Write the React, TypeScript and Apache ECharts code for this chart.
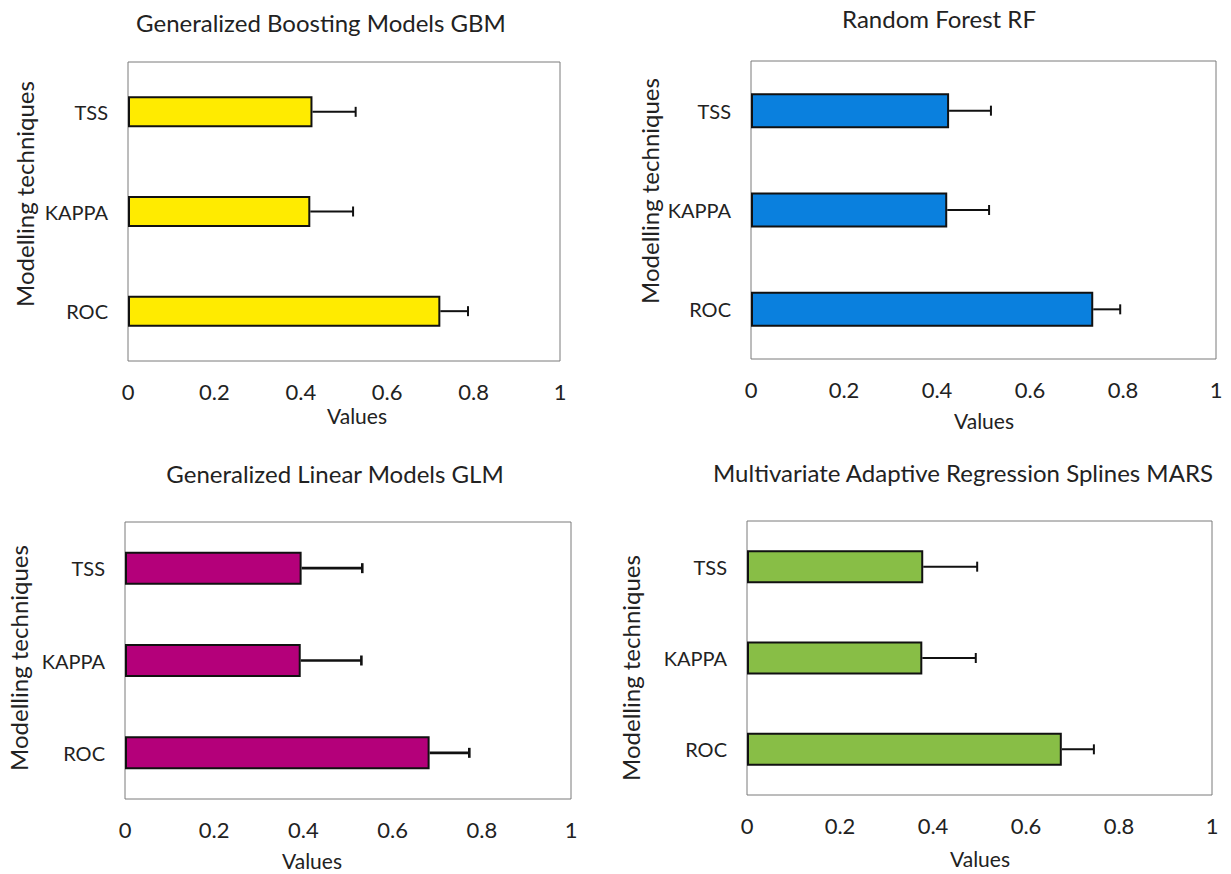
import React, { useEffect, useRef } from "react";
import * as echarts from "echarts";

const categories = ["ROC", "KAPPA", "TSS"];
const xTicks = [0, 0.2, 0.4, 0.6, 0.8, 1];

const gbmValues = [0.723, 0.422, 0.427];
const gbmErrors = [0.064, 0.099, 0.1];
const rfValues = [0.736, 0.422, 0.426];
const rfErrors = [0.058, 0.09, 0.09];
const glmValues = [0.683, 0.394, 0.396];
const glmErrors = [0.089, 0.136, 0.136];
const marsValues = [0.677, 0.377, 0.379];
const marsErrors = [0.069, 0.115, 0.116];

const titles = [
  "Generalized Boosting Models GBM",
  "Random Forest RF",
  "Generalized Linear Models GLM",
  "Multivariate Adaptive Regression Splines MARS",
];
const xName = "Values";
const yName = "Modelling techniques";

const FONT = "Lato, 'Open Sans', sans-serif";
const TEXT = "#222";

const panels = [
  { values: gbmValues, errors: gbmErrors, color: "#FFEB00", grid: { left: 128, top: 62, width: 432, height: 299 }, barWidth: 31, title: [321, 22], xn: [357, 415], yn: [24, 194], errW: 2 },
  { values: rfValues, errors: rfErrors, color: "#0A80DE", grid: { left: 751, top: 61, width: 465, height: 298 }, barWidth: 35, title: [939, 18], xn: [984, 420], yn: [649, 191], errW: 2 },
  { values: glmValues, errors: glmErrors, color: "#B4007A", grid: { left: 125, top: 522, width: 446, height: 277 }, barWidth: 33, title: [335, 473], xn: [312, 860], yn: [18, 658], errW: 2.6 },
  { values: marsValues, errors: marsErrors, color: "#88BE46", grid: { left: 747, top: 521, width: 465, height: 274 }, barWidth: 33, title: [963, 472], xn: [980, 858], yn: [630, 668], errW: 2 },
];

export default function App() {
  const ref = useRef<HTMLDivElement>(null);
  useEffect(() => {
    if (!ref.current) return;
    const chart = echarts.init(ref.current, null, { renderer: "svg" });
    const grids: any[] = [];
    const xAxes: any[] = [];
    const yAxes: any[] = [];
    const series: any[] = [];
    const graphics: any[] = [];
    panels.forEach((p, i) => {
      grids.push({ ...p.grid, show: true, borderColor: "#7a7a7a", borderWidth: 1, backgroundColor: "#fff", containLabel: false });
      xAxes.push({
        gridIndex: i, type: "value", min: xTicks[0], max: xTicks[xTicks.length - 1], interval: 0.2,
        axisLine: { show: false }, axisTick: { show: false }, splitLine: { show: false },
        axisLabel: { margin: 19, fontSize: 22, color: TEXT, fontFamily: FONT },
      });
      yAxes.push({
        gridIndex: i, type: "category", data: categories,
        axisLine: { show: false }, axisTick: { show: false }, splitLine: { show: false },
        axisLabel: { margin: 20, fontSize: 20, color: TEXT, fontFamily: FONT },
      });
      series.push({
        type: "bar", xAxisIndex: i, yAxisIndex: i, data: p.values, barWidth: p.barWidth,
        itemStyle: { color: p.color, borderColor: "#111", borderWidth: 2 },
        z: 2,
      });
      series.push({
        type: "custom", xAxisIndex: i, yAxisIndex: i, z: 3,
        data: p.values.map((v, k) => [v, p.errors[k], k]),
        renderItem: (params: any, api: any) => {
          const v = api.value(0);
          const e = api.value(1);
          const c = api.value(2);
          const s = api.coord([v, c]);
          const t = api.coord([v + e, c]);
          const st = { stroke: "#111", lineWidth: p.errW };
          return {
            type: "group",
            children: [
              { type: "line", shape: { x1: s[0], y1: s[1], x2: t[0], y2: t[1] }, style: st },
              { type: "line", shape: { x1: t[0], y1: t[1] - 5, x2: t[0], y2: t[1] + 5 }, style: st },
            ],
          };
        },
      });
      graphics.push({
        type: "text", x: p.title[0], y: p.title[1],
        style: { text: titles[i], fontSize: 24, fontFamily: FONT, fill: TEXT, align: "center", verticalAlign: "middle" },
      });
      graphics.push({
        type: "text", x: p.xn[0], y: p.xn[1],
        style: { text: xName, fontSize: 21, fontFamily: FONT, fill: TEXT, align: "center", verticalAlign: "middle" },
      });
      graphics.push({
        type: "text", x: p.yn[0], y: p.yn[1], rotation: Math.PI / 2,
        style: { text: yName, fontSize: 24, fontFamily: FONT, fill: TEXT, align: "center", verticalAlign: "middle" },
      });
    });
    chart.setOption({
      animation: false,
      backgroundColor: "#fff",
      grid: grids,
      xAxis: xAxes,
      yAxis: yAxes,
      series,
      graphic: graphics,
    });
    return () => chart.dispose();
  }, []);
  return (
    <div
      ref={ref}
      style={{ position: "absolute", left: 0, top: 0, width: 1231, height: 874, background: "#fff" }}
    />
  );
}
